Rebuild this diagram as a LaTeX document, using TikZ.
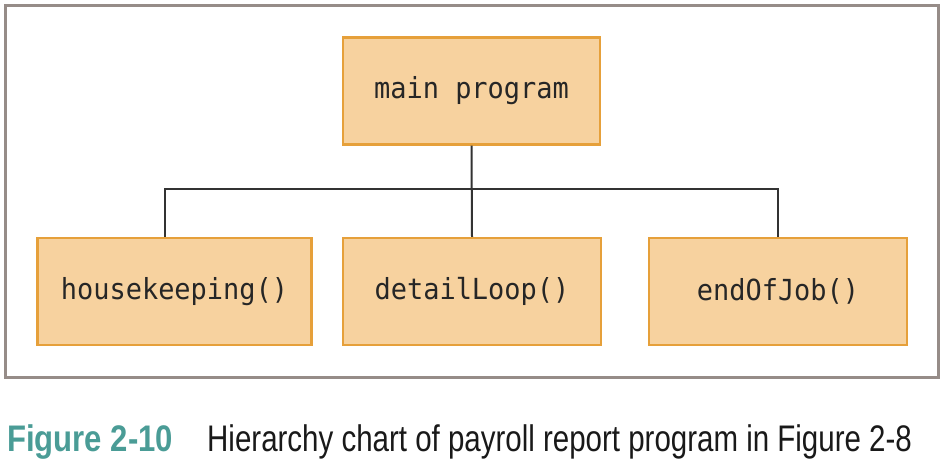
\documentclass[tikz,border=0pt]{standalone}
\usepackage{fontspec}
\newfontfamily\boxfont[FakeStretch=0.93]{DejaVu Sans Mono}
\newfontfamily\capbold[FakeStretch=0.84]{Liberation Sans Bold}
\newfontfamily\capreg[FakeStretch=0.797]{Liberation Sans}
\definecolor{boxfill}{HTML}{F7D29F}
\definecolor{boxline}{HTML}{E6A03A}
\definecolor{framegray}{HTML}{968C88}
\definecolor{linegray}{HTML}{333333}
\definecolor{teal}{HTML}{4A9C96}
\begin{document}
\begin{tikzpicture}[x=1pt,y=-1pt,
  modbox/.style={draw=boxline, fill=boxfill, line width=2.2pt, minimum height=107pt,
    inner sep=0pt, font=\boxfont\fontsize{29}{32}\selectfont, text=black!85},
  conn/.style={draw=linegray, line width=2pt}]
\useasboundingbox (0,0) rectangle (945,462);
\draw[framegray, line width=3pt] (5.5,5.5) rectangle (938,377);
\node[modbox, minimum width=257pt] (main) at (471.5,91) {main program};
\node[modbox, minimum width=274pt] (hk) at (174.5,291.5) {housekeeping()};
\node[modbox, minimum width=258pt] (dl) at (472,291.5) {detailLoop()};
\node[modbox, minimum width=258pt] (eoj) at (778,291.5) {endOfJob()};
\coordinate (j) at (471.5,189);
\draw[conn] (main.south) -- (dl.north);
\draw[conn] (hk.north -| 165,0) |- (j) -| (eoj.north);
\node[anchor=base west, inner sep=0pt, text=teal, font=\capbold\fontsize{37}{40}\selectfont] (fig) at (7,451) {Figure 2-10};
\node[anchor=base west, inner sep=0pt, text=black!90, font=\capreg\fontsize{37}{40}\selectfont] (cap) at (207,451) {Hierarchy chart of payroll report program in Figure 2-8};
\end{tikzpicture}
\end{document}
